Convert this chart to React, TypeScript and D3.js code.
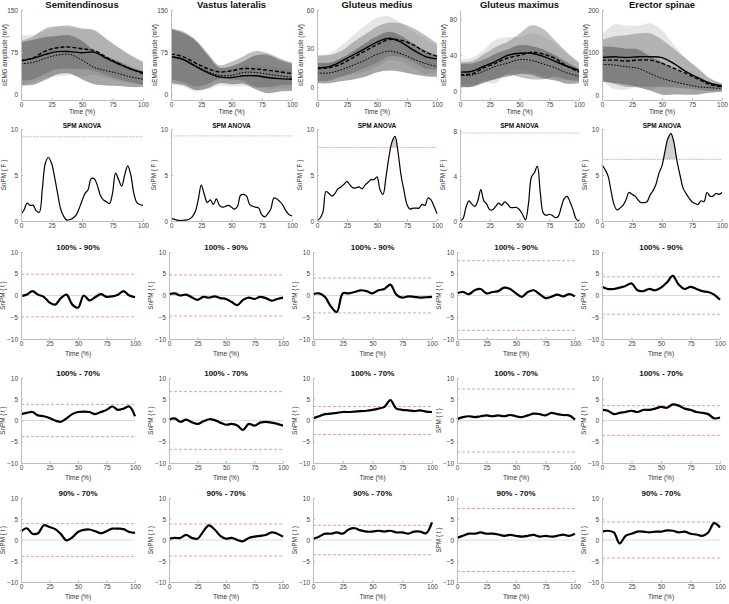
import React, { useEffect, useRef } from 'react';
import * as d3 from 'd3';

// time grids (% of movement)
const t10 = [0, 10, 20, 30, 40, 50, 60, 70, 80, 90, 100];
const t5 = [0, 5, 10, 15, 20, 25, 30, 35, 40, 45, 50, 55, 60, 65, 70, 75, 80, 85, 90, 95, 100];
const t25 = [0, 2.5, 5, 7.5, 10, 12.5, 15, 17.5, 20, 22.5, 25, 27.5, 30, 32.5, 35, 37.5, 40, 42.5, 45, 47.5, 50,
  52.5, 55, 57.5, 60, 62.5, 65, 67.5, 70, 72.5, 75, 77.5, 80, 82.5, 85, 87.5, 90, 92.5, 95, 97.5, 100];

const muscles = ['Semitendinosus', 'Vastus lateralis', 'Gluteus medius', 'Gluteus maximus', 'Erector spinae'];

// sEMG means [100%, 90%, 70%] and SDs
const semiMean = [
  [60, 64, 71, 76, 76, 74, 75, 64, 54, 45, 39],
  [60, 65, 77, 83, 84, 81, 78, 66, 55, 45, 37],
  [54, 57, 64, 70, 71, 61, 48, 42, 37, 31, 27],
];
const semiSd = [
  [45, 42, 42, 44, 42, 42, 40, 35, 30, 25, 20],
  [35, 38, 40, 38, 38, 36, 36, 32, 28, 24, 20],
  [38, 40, 38, 34, 34, 34, 30, 26, 22, 18, 14],
];
const vastMean = [
  [67, 62, 50, 39, 31, 30, 33, 33, 30, 28, 27],
  [72, 67, 56, 46, 40, 42, 46, 45, 43, 40, 37],
  [68, 63, 52, 41, 34, 34, 39, 39, 36, 33, 30],
];
const vastSd = [
  [50, 48, 45, 30, 15, 16, 18, 20, 20, 18, 16],
  [45, 45, 42, 28, 12, 16, 22, 32, 30, 24, 20],
  [48, 46, 44, 30, 14, 16, 20, 30, 34, 28, 24],
];
const gmedMean = [
  [15, 16, 20, 25, 30, 35, 38, 35, 29, 24, 22],
  [14.5, 15, 18, 23, 28, 33, 37, 36.5, 33, 27.5, 24],
  [11, 11, 13.5, 17, 21, 25.5, 28, 26, 22, 18.5, 16],
];
const gmedSd = [
  [10, 10, 12, 15, 18, 19, 17, 15, 14, 14, 10],
  [10, 10, 10, 12, 13, 14, 13, 13, 13, 13, 10],
  [8, 8, 9, 11, 13, 14, 15, 14, 12, 10, 8],
];
const gmaxMean = [
  [21, 22, 27.5, 33, 39.6, 42, 42, 38.5, 33, 27.5, 23],
  [18, 19, 25.7, 31, 36.7, 39.6, 43, 41, 36, 27.5, 21],
  [17.6, 17.6, 22, 27.5, 31, 35, 34, 30, 25.7, 20, 16.5],
];
const gmaxSd = [
  [14, 15, 18, 24, 20, 18, 22, 22, 20, 15, 10],
  [14, 14, 15, 18, 18, 24, 30, 28, 20, 15, 10],
  [13, 13, 13, 14, 15, 16, 16, 16, 14, 12, 8],
];
const erecMean = [
  [89, 91, 89, 91, 91, 89, 75, 56, 42, 29, 23],
  [83, 83, 81, 83, 83, 75.5, 64, 52, 39, 26, 21],
  [73, 71.6, 67.7, 64, 52, 40.5, 32.7, 26.5, 21, 18.7, 17],
];
const erecSd = [
  [53, 75, 75, 72, 78, 64, 43, 30, 20, 10, 6],
  [47, 55, 60, 62, 62, 55, 45, 35, 25, 15, 8],
  [41, 42, 42, 44, 40, 38, 30, 24, 18, 12, 8],
];
const emgMeans = [semiMean, vastMean, gmedMean, gmaxMean, erecMean];
const emgSds = [semiSd, vastSd, gmedSd, gmaxSd, erecSd];
const emgDomains = [[-10, 150], [-10, 150], [-10, 60], [-10, 90], [-10, 200]];
const emgTicks = [[0, 75, 150], [0, 75, 150], [0, 30, 60], [0, 40, 80], [0, 100, 200]];

// SPM ANOVA F curves
const semiF = [0.76, 1.2, 1.95, 1.7, 1.7, 1.1, 0.95, 3.5, 6.3, 6.9, 6.3, 4.8, 3.0, 1.3, 0.5, 0.1, 0.15, 0.3, 0.6, 1.3, 2.2,
  3.0, 3.4, 4.6, 4.6, 3.9, 2.8, 2.3, 2.1, 1.9, 3.0, 5.2, 4.5, 3.8, 5.0, 6.0, 5.0, 3.0, 2.0, 1.8, 1.7];
const vastF = [0.25, 0.2, 0.1, 0.05, 0.08, 0.1, 0.2, 0.45, 1.0, 2.3, 3.9, 2.9, 2.0, 2.3, 1.8, 2.4, 1.7, 1.5, 1.6, 1.7, 1.5,
  1.3, 1.6, 2.8, 2.9, 2.7, 1.8, 1.6, 1.5, 1.4, 0.7, 0.45, 0.8, 1.3, 2.5, 2.4, 2.1, 1.7, 1.1, 0.7, 0.55];
const gmedF = [0, 0.3, 1.0, 3.2, 3.0, 2.7, 3.0, 3.5, 3.7, 4.0, 4.3, 3.9, 3.6, 3.6, 3.7, 3.5, 3.9, 4.2, 4.5, 4.5, 4.8,
  3.4, 2.9, 4.8, 7.0, 8.6, 9.2, 7.5, 5.0, 3.3, 1.8, 1.3, 1.4, 1.4, 1.4, 1.8, 1.7, 2.5, 2.3, 1.6, 0.8];
const gmaxF = [0, 0.2, 1.2, 1.8, 1.5, 1.3, 1.8, 2.8, 1.8, 1.5, 1.0, 1.0, 1.3, 1.6, 1.4, 1.7, 1.5, 1.2, 1.2, 1.2, 1.0,
  0.6, 0.1, 1.5, 3.9, 4.3, 4.9, 2.5, 0.7, 0.5, 0.6, 0.5, 0.3, 0.4, 1.2, 2.0, 2.2, 1.7, 1.0, 0.2, 0];
const erecF = [6.1, 5.6, 4.9, 3.3, 1.8, 1.2, 1.4, 1.7, 2.3, 3.1, 2.9, 2.7, 2.3, 2.0, 2.0, 2.1, 2.8, 3.3, 4.0, 5.2, 6.0,
  7.6, 9.0, 9.5, 8.5, 6.5, 5.0, 3.6, 3.0, 2.5, 2.1, 1.9, 1.8, 2.2, 2.1, 3.1, 2.7, 2.7, 3.0, 2.9, 3.1];
const anovaF = [semiF, vastF, gmedF, gmaxF, erecF];
const anovaThr = [9.15, 9.25, 8.0, 7.85, 6.7];
const anovaDomains = [[0, 10], [0, 10], [0, 10], [0, 8.2], [0, 10]];
const anovaTicks = [[0, 5, 10], [0, 5, 10], [0, 5, 10], [0, 4, 8], [0, 5, 10]];

// post-hoc t curves
const t100v90 = [
  [-0.15, 0.2, 1.0, 0.2, -0.3, -1.6, -2.1, -0.6, 0.2, -2.1, -2.8, 0, -1.1, -0.4, 0.3, -0.3, -0.2, 0.2, 1.0, 0, -0.4],
  [0.3, 0.5, 0, 0.2, -0.4, -1.0, -0.3, -0.5, -0.2, -0.6, -0.8, -1.5, -2.2, -1.0, -0.5, -0.8, -0.3, -0.6, -1.2, -0.8, -0.5],
  [0.3, 0.5, -0.3, -2.5, -3.8, 0.5, 0.5, 0.8, 1.2, 1.0, 0.5, 1.2, 1.5, 2.5, 0.2, -0.5, -0.2, -0.3, -0.5, -0.4, -0.3],
  [0.5, 0.8, 0.3, 1.2, 1.5, 0.5, 0.8, 1.0, 1.8, 1.5, 0.5, -0.3, 0.8, 1.2, 0.3, -0.6, -0.3, 0.2, -0.2, 0.3, -0.2],
  [2.0, 1.5, 1.5, 1.8, 2.2, 2.8, 1.2, 1.0, 1.5, 1.2, 1.8, 3.0, 4.5, 2.5, 1.5, 2.0, 1.5, 1.0, 0.8, 0.2, -1.0],
];
const t100v70 = [
  [1.5, 1.8, 2.0, 1.2, 1.0, 0.6, 0.0, -0.3, 0.5, 1.5, 2.0, 2.1, 2.0, 1.5, 2.0, 2.5, 3.3, 2.5, 2.8, 3.3, 1.0],
  [0.2, 0.5, -0.3, 0.2, -0.4, -0.8, -0.2, 0.3, 0.1, -0.5, -1.0, -0.8, -1.2, -2.2, -0.8, -1.2, -0.5, -0.3, -0.5, -0.8, -1.2],
  [0.5, 1.0, 1.5, 1.6, 1.8, 2.0, 2.0, 2.1, 2.2, 2.3, 2.5, 2.8, 3.2, 4.8, 2.8, 2.5, 2.4, 2.2, 2.4, 2.1, 2.0],
  [0.3, 0.8, 1.0, 0.8, 1.0, 1.2, 1.0, 1.2, 1.0, 1.3, 1.0, 0.8, 1.2, 1.6, 1.5, 1.2, 1.8, 1.5, 1.3, 1.2, 0.2],
  [2.5, 2.3, 1.5, 1.8, 2.0, 2.3, 2.0, 2.5, 2.5, 2.8, 3.2, 3.0, 3.8, 3.5, 2.8, 2.5, 2.0, 1.8, 1.5, 0.5, 0.7],
];
const t90v70 = [
  [2.0, 2.8, 1.5, 1.6, 3.5, 3.1, 2.6, 1.4, -0.1, 0.6, 1.9, 2.4, 2.5, 2.1, 1.6, 2.1, 2.7, 2.7, 2.6, 1.9, 1.7],
  [0.3, 0.5, 0.5, 1.2, 0.5, 0.3, 2.0, 3.5, 2.5, 1.0, 0.3, 0.5, 0.0, -0.3, 0.5, 0.8, 1.0, 1.2, 1.8, 1.5, 0.8],
  [0.3, 0.8, 1.5, 1.5, 1.8, 1.5, 2.5, 2.8, 2.3, 2.0, 2.0, 2.2, 2.0, 2.2, 1.8, 1.8, 1.5, 2.0, 2.0, 1.6, 4.2],
  [0.5, 1.0, 1.5, 1.5, 1.8, 1.5, 1.5, 1.3, 1.0, 1.2, 1.0, 0.8, 1.0, 1.2, 0.8, 1.0, 0.8, 1.0, 1.3, 1.0, 1.5],
  [2.0, 2.2, 1.8, -0.8, 1.0, 1.5, 2.0, 2.0, 1.8, 2.0, 2.0, 2.3, 2.2, 1.8, 2.0, 1.5, 1.3, 1.0, 1.8, 4.0, 3.0],
];
const tTitles = ['100% - 90%', '100% - 70%', '90% - 70%'];
const tCurves = [t100v90, t100v70, t90v70];
const tThr = [
  [4.9, 4.7, 4.0, 8.0, 4.3],
  [3.8, 6.8, 3.3, 7.4, 3.5],
  [3.9, 3.8, 3.5, 7.5, 4.3],
];

const xTicks = [0, 25, 50, 75, 100];
const font = "'Liberation Sans', Arial, Helvetica, sans-serif";

const App = () => {
  const svgRef = useRef<SVGSVGElement>(null);

  useEffect(() => {
    const svg = d3.select(svgRef.current);
    svg.selectAll('*').remove();

    // column extents
    const topL = [21, 171, 317, 460, 602];
    const topR = [143, 292, 437, 579, 722];
    const botL = [21, 169, 313, 457, 602];
    const botR = [135, 283, 432, 575, 720];

    const axes = (x, y, yTicks) => {
      const ax = svg.append('g')
        .attr('transform', `translate(0,${y.range()[0]})`)
        .call(d3.axisBottom(x).tickValues(xTicks).tickSizeInner(-2).tickSizeOuter(0).tickPadding(2.5));
      const ay = svg.append('g')
        .attr('transform', `translate(${x.range()[0]},0)`)
        .call(d3.axisLeft(y).tickValues(yTicks).tickSizeInner(-2).tickSizeOuter(0).tickPadding(3));
      [ax, ay].forEach(a => {
        a.attr('font-size', 6.5).attr('font-family', font);
        a.select('.domain').attr('stroke', '#bdbdbd');
        a.selectAll('line').attr('stroke', '#bdbdbd');
        a.selectAll('text').attr('fill', '#444');
      });
    };

    const label = (x, y, txt, size, weight = 'normal', rotate = false) => {
      svg.append('text')
        .attr('transform', `translate(${x},${y})${rotate ? ' rotate(-90)' : ''}`)
        .attr('text-anchor', 'middle')
        .attr('font-family', font)
        .attr('font-size', size)
        .attr('font-weight', weight)
        .attr('fill', weight === 'bold' ? '#111' : '#333')
        .text(txt);
    };

    // Row 1: sEMG envelopes
    const bandFill = ['#cccccc', '#808080', '#4d4d4d'];
    const dash = [null, '4,2', '1.6,1.4'];
    muscles.forEach((m, i) => {
      const x = d3.scaleLinear().domain([0, 100]).range([topL[i], topR[i]]);
      const y = d3.scaleLinear().domain(emgDomains[i]).range([100, 10]);
      const mean = emgMeans[i];
      const sd = emgSds[i];

      [0, 1, 2].forEach(k => {
        const area = d3.area<number>()
          .x((_, j) => x(t10[j]))
          .y0((d, j) => y(d - sd[k][j]))
          .y1((d, j) => y(d + sd[k][j]))
          .curve(d3.curveCatmullRom);
        svg.append('path').attr('d', area(mean[k])).attr('fill', bandFill[k]).attr('fill-opacity', 0.5);
      });
      [0, 1, 2].forEach(k => {
        const line = d3.line<number>().x((_, j) => x(t10[j])).y(d => y(d)).curve(d3.curveCatmullRom);
        svg.append('path')
          .attr('d', line(mean[k]))
          .attr('fill', 'none')
          .attr('stroke', '#000')
          .attr('stroke-width', k === 2 ? 1 : 1.4)
          .attr('stroke-dasharray', dash[k]);
      });
      axes(x, y, emgTicks[i]);
      label((topL[i] + topR[i]) / 2, 8, m, 9.5, 'bold');
      label((topL[i] + topR[i]) / 2, 113.5, 'Time (%)', 6.5);
      label(topL[i] - 14, 55, 'sEMG amplitude (mV)', 6.3, 'normal', true);
    });

    // Row 2: SPM ANOVA
    anovaF.forEach((f, i) => {
      const x = d3.scaleLinear().domain([0, 100]).range([topL[i], topR[i]]);
      const y = d3.scaleLinear().domain(anovaDomains[i]).range([221, 129]);
      const thr = anovaThr[i];
      const clipId = `clipF${i}`;
      svg.append('clipPath').attr('id', clipId)
        .append('rect').attr('x', x(0)).attr('y', 100).attr('width', x(100) - x(0)).attr('height', y(thr) - 100);
      const area = d3.area<number>()
        .x((_, j) => x(t25[j]))
        .y0(y(thr))
        .y1(d => y(d))
        .curve(d3.curveCatmullRom);
      svg.append('path').attr('d', area(f)).attr('fill', '#d0d0d0').attr('clip-path', `url(#${clipId})`);
      svg.append('line')
        .attr('x1', x(0)).attr('x2', x(100)).attr('y1', y(thr)).attr('y2', y(thr))
        .attr('stroke', '#f08080').attr('stroke-width', 0.8).attr('stroke-dasharray', '1.2,1.2');
      const line = d3.line<number>().x((_, j) => x(t25[j])).y(d => y(d)).curve(d3.curveCatmullRom);
      svg.append('path').attr('d', line(f)).attr('fill', 'none').attr('stroke', '#000').attr('stroke-width', 1.2);
      axes(x, y, anovaTicks[i]);
      label((topL[i] + topR[i]) / 2, 127.5, 'SPM ANOVA', 6.5, 'bold');
      label(topL[i] - 15, 175, 'SnPM { F }', 6.3, 'normal', true);
    });

    // Rows 3-5: post-hoc t tests
    const rowTop = [252, 378, 498];
    const rowBot = [339, 463, 582];
    tCurves.forEach((rowData, r) => {
      rowData.forEach((tv, i) => {
        const x = d3.scaleLinear().domain([0, 100]).range([botL[i], botR[i]]);
        const y = d3.scaleLinear().domain([-10, 10]).range([rowBot[r], rowTop[r]]);
        svg.append('line')
          .attr('x1', x(0)).attr('x2', x(100)).attr('y1', y(0)).attr('y2', y(0))
          .attr('stroke', '#d0d0d0').attr('stroke-width', 0.8);
        [tThr[r][i], -tThr[r][i]].forEach(v => {
          svg.append('line')
            .attr('x1', x(0)).attr('x2', x(100)).attr('y1', y(v)).attr('y2', y(v))
            .attr('stroke', '#f08080').attr('stroke-width', 0.8).attr('stroke-dasharray', '3,2');
        });
        const line = d3.line<number>().x((_, j) => x(t5[j])).y(d => y(d)).curve(d3.curveCatmullRom);
        svg.append('path').attr('d', line(tv)).attr('fill', 'none').attr('stroke', '#000').attr('stroke-width', 2.2);
        axes(x, y, [-10, -5, 0, 5, 10]);
        const cx = (botL[i] + botR[i]) / 2;
        label(cx, rowTop[r] - 2, tTitles[r], 8, 'bold');
        label(cx, rowBot[r] + 17, 'Time (%)', 6.5);
        label(botL[i] - 16, (rowTop[r] + rowBot[r]) / 2, i === 3 && r > 0 ? 'SPM { t }' : 'SnPM { t }', 6.3, 'normal', true);
      });
    });
  }, []);

  return (
    <svg
      ref={svgRef}
      width={729}
      height={604}
      style={{ position: 'absolute', left: 0, top: 0, background: '#fff' }}
    />
  );
};

export default App;
